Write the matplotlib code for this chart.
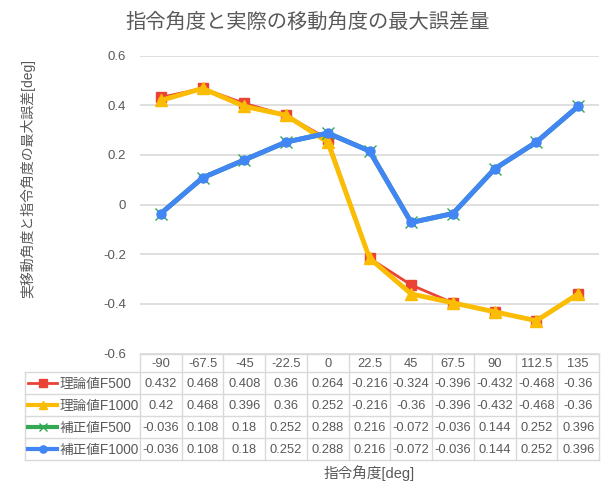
import matplotlib
matplotlib.use("Agg")
import matplotlib.pyplot as plt
import numpy as np

plt.rcParams['font.family'] = ['Liberation Sans', 'Noto Sans CJK JP']

angles = ['-90', '-67.5', '-45', '-22.5', '0', '22.5', '45', '67.5', '90', '112.5', '135']
riron_f500 = [0.432, 0.468, 0.408, 0.36, 0.264, -0.216, -0.324, -0.396, -0.432, -0.468, -0.36]
riron_f1000 = [0.42, 0.468, 0.396, 0.36, 0.252, -0.216, -0.36, -0.396, -0.432, -0.468, -0.36]
hosei_f500 = [-0.036, 0.108, 0.18, 0.252, 0.288, 0.216, -0.072, -0.036, 0.144, 0.252, 0.396]
hosei_f1000 = [-0.036, 0.108, 0.18, 0.252, 0.288, 0.216, -0.072, -0.036, 0.144, 0.252, 0.396]
series_names = ['理論値F500', '理論値F1000', '補正値F500', '補正値F1000']
yticks = [-0.6, -0.4, -0.2, 0, 0.2, 0.4, 0.6]
title = '指令角度と実際の移動角度の最大誤差量'
xlabel = '指令角度[deg]'
ylabel = '実移動角度と指令角度の最大誤差[deg]'

W, H = 616, 499
fig = plt.figure(figsize=(W / 100, H / 100), dpi=100)

# plot area in pixels
L, R, T, B = 140, 599, 55.7, 353.5
ax = fig.add_axes([L / W, 1 - B / H, (R - L) / W, (B - T) / H])
x = np.arange(len(angles))
txtc = '#595959'
gridc = '#d9d9d9'

styles = [
    dict(color='#EA4335', lw=2.0, marker='s', ms=6.5, zorder=3),
    dict(color='#FBBC04', lw=3.5, marker='^', ms=8, zorder=4),
    dict(color='#34A853', lw=3.5, marker='x', ms=8, mew=1, zorder=5),
    dict(color='#4285F4', lw=3.5, marker='o', ms=6.5, zorder=6),
]
data = [riron_f500, riron_f1000, hosei_f500, hosei_f1000]
for vals, st in zip(data, styles):
    ax.plot(x, vals, **st)

ax.set_xlim(-0.5, len(angles) - 0.5)
ax.set_ylim(-0.6, 0.6)
ax.set_yticks(yticks)
ax.set_yticklabels(['-0.6', '-0.4', '-0.2', '0', '0.2', '0.4', '0.6'])
ax.tick_params(axis='y', length=0, labelsize=9.5, labelcolor=txtc, pad=10)
ax.set_xticks([])
for s in ax.spines.values():
    s.set_visible(False)
ax.grid(axis='y', color=gridc, lw=1.2)
ax.set_axisbelow(True)

# title
fig.text(308 / W, 1 - 22 / H, title, ha='center', va='center', fontsize=14.6, color=txtc)
# y label
fig.text(28 / W, 1 - 178.5 / H, ylabel, rotation=90, ha='center', va='center',
         fontsize=10, color=txtc)
# x label
fig.text((L + R) / 2 / W, 1 - 473 / H, xlabel, ha='center', va='center',
         fontsize=10.5, color=txtc)

# data table (pixel coordinates)
tax = fig.add_axes([0, 0, 1, 1])
tax.set_xlim(0, W)
tax.set_ylim(H, 0)
tax.axis('off')

ncol = len(angles)
cw = (R - L) / ncol
rows_y = [354, 372, 393.5, 416, 438, 459.5]
legend_left = 25
lw_t = 1.0
# horizontal lines
tax.plot([L, R], [rows_y[0], rows_y[0]], color=gridc, lw=lw_t)
for yy in rows_y[1:]:
    tax.plot([legend_left, R], [yy, yy], color=gridc, lw=lw_t)
# vertical lines
for i in range(ncol + 1):
    xx = L + i * cw
    tax.plot([xx, xx], [rows_y[0], rows_y[-1]], color=gridc, lw=lw_t)
tax.plot([legend_left, legend_left], [rows_y[1], rows_y[-1]], color=gridc, lw=lw_t)

# header
for i, a in enumerate(angles):
    tax.text(L + (i + 0.5) * cw, (rows_y[0] + rows_y[1]) / 2 + 1, a, ha='center',
             va='center', fontsize=9.3, color=txtc)

for r, (name, vals, st) in enumerate(zip(series_names, data, styles)):
    yc = (rows_y[r + 1] + rows_y[r + 2]) / 2 + 1
    # legend key
    tax.plot([28, 57], [yc - 1, yc - 1], color=st['color'], lw=st['lw'] if st['lw'] < 3 else 3)
    mk = dict(st)
    mk.pop('lw'); mk.pop('zorder')
    mk['ms'] = mk['ms'] * 0.8
    tax.plot([42.5], [yc - 1], ls='none', **mk)
    tax.text(60, yc, name, ha='left', va='center', fontsize=9.8, color=txtc)
    for i, v in enumerate(vals):
        tax.text(L + (i + 0.5) * cw, yc, '%g' % v, ha='center', va='center',
                 fontsize=9.3, color=txtc)

fig.savefig('out.png', dpi=100)
